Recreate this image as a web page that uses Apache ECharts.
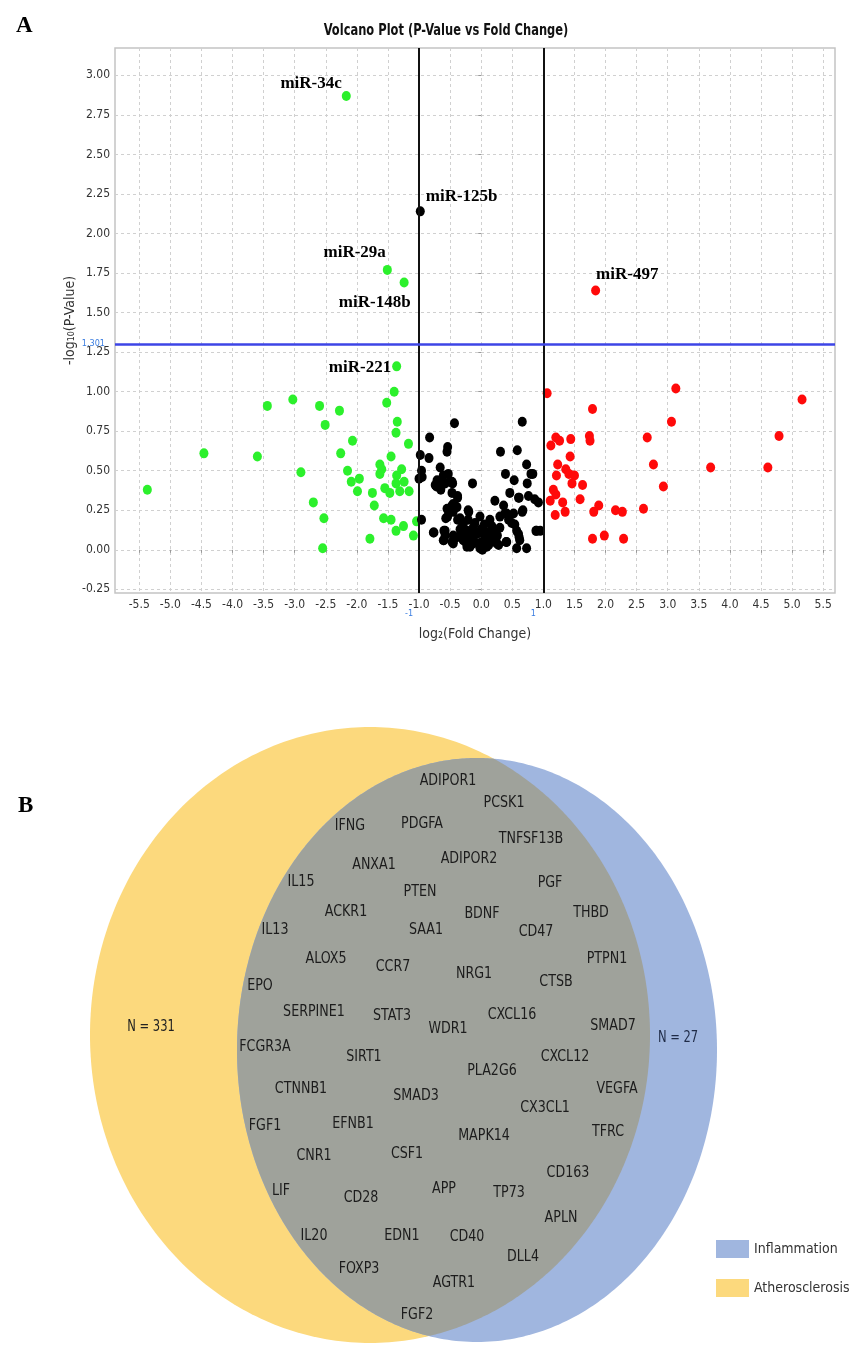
<!DOCTYPE html>
<html><head><meta charset="utf-8">
<script src="https://cdn.jsdelivr.net/npm/echarts@6.0.0/dist/echarts.min.js"></script>
<style>html,body{margin:0;padding:0;background:#fff}#c{width:854px;height:1345px}</style>
</head><body><div id="c"></div>
<script>
// ---------------- Volcano data ----------------
const downX = [-5.37,-4.46,-3.60,-3.44,-3.03,-2.90,-2.70,-2.60,-2.51,-2.53,-2.55,-2.28,-2.26,-2.07,-2.15,-2.09,-1.96,-1.99,-1.75,-1.72,-1.79,-1.63,-1.60,-1.63,-1.55,-1.57,-1.52,-1.40,-1.35,-1.37,-1.45,-1.36,-1.37,-1.47,-1.45,-1.37,-1.28,-1.31,-1.24,-1.25,-1.17,-1.16,-1.09,-1.04];
const downY = [0.38,0.61,0.59,0.91,0.95,0.49,0.30,0.91,0.79,0.20,0.01,0.88,0.61,0.69,0.50,0.43,0.45,0.37,0.36,0.28,0.07,0.54,0.51,0.48,0.39,0.20,0.93,1.00,0.81,0.74,0.59,0.47,0.42,0.36,0.19,0.12,0.51,0.37,0.43,0.15,0.67,0.37,0.09,0.18];
const upX = [1.06,3.13,5.16,1.79,3.06,4.79,2.67,1.74,1.75,1.44,1.20,1.26,1.12,1.43,2.77,1.23,3.69,4.61,1.36,1.21,1.41,1.50,1.46,1.63,2.93,1.16,1.20,1.11,1.31,1.59,1.35,1.19,1.89,1.81,2.16,2.27,2.61,1.79,1.98,2.29];
const upY = [0.99,1.02,0.95,0.89,0.81,0.72,0.71,0.72,0.69,0.70,0.71,0.69,0.66,0.59,0.54,0.54,0.52,0.52,0.51,0.47,0.48,0.47,0.42,0.41,0.40,0.38,0.35,0.31,0.30,0.32,0.24,0.22,0.28,0.24,0.25,0.24,0.26,0.07,0.09,0.07];
const nsX = [-0.83,-0.98,-0.84,-0.96,-1.00,-0.95,-0.96,-0.76,-0.66,-0.58,-0.66,-0.54,-0.55,-0.53,-0.50,-0.43,-0.47,-0.54,-0.58,-0.45,-0.41,-0.38,-0.61,-0.74,-0.65,-0.46,-0.38,-0.14,0.31,0.58,0.66,0.73,0.39,0.53,0.80,0.74,0.46,0.61,0.76,0.86,0.92,0.22,0.36,-0.45,-0.50,-0.57,-0.38,-0.20,-0.30,-0.02,0.14,0.30,0.38,0.52,0.66,0.44,0.54,0.57,0.61,-0.77,-0.60,-0.60,-0.45,-0.45,-0.34,-0.23,-0.18,-0.13,-0.07,-0.18,-0.05,0.02,0.06,0.11,0.17,0.26,0.28,0.40,0.57,0.73,0.89,0.95,-0.31,-0.29,-0.13,0.09,0.19,-0.21,-0.39,-0.61,-0.71,-0.10,0.00,0.05,-0.25,0.12,
  -0.72,-0.61,-0.47,0.60,-0.47,-0.45,-0.55,-0.21,0.41,0.67,0.17,-0.34,-0.29,0.30,0.49,-0.58,-0.47,-0.15,0.01,0.09,0.17,-0.23,-0.13,0.01,0.25,-0.23,-0.02,0.41,0.60,0.62,-0.39,0.88,0.83];
const nsY = [0.71,0.60,0.58,0.50,0.45,0.46,0.19,0.11,0.52,0.42,0.41,0.65,0.62,0.48,0.43,0.80,0.36,0.21,0.12,0.05,0.27,0.33,0.06,0.41,0.38,0.42,0.34,0.42,0.62,0.63,0.81,0.54,0.48,0.44,0.48,0.42,0.36,0.33,0.34,0.32,0.30,0.31,0.28,0.29,0.25,0.20,0.19,0.24,0.17,0.21,0.19,0.21,0.23,0.23,0.24,0.19,0.16,0.12,0.08,0.11,0.12,0.06,0.09,0.04,0.13,0.12,0.08,0.14,0.10,0.02,0.04,0.00,0.07,0.11,0.06,0.09,0.03,0.05,0.01,0.01,0.12,0.12,0.10,0.06,0.06,0.02,0.12,0.19,0.27,0.43,0.44,0.17,0.13,0.16,0.05,0.03,
  0.40,0.47,0.43,0.33,0.28,0.24,0.26,0.25,0.23,0.25,0.15,0.20,0.16,0.14,0.17,0.09,0.05,0.12,0.11,0.08,0.10,0.06,0.04,0.05,0.04,0.02,0.01,0.05,0.10,0.06,0.08,0.12,0.48];
const namedMiR = ['miR-34c','miR-125b','miR-29a','miR-148b','miR-497','miR-221'];
const namedX = [-2.17,-0.98,-1.51,-1.24,1.84,-1.36];
const namedY = [2.87,2.14,1.77,1.69,1.64,1.16];
const namedGroup = ['down','ns','down','down','up','down'];
const fcThresholds = [-1, 1];
const pThreshold = 1.301;
const xTickValues = [-5.5,-5.0,-4.5,-4.0,-3.5,-3.0,-2.5,-2.0,-1.5,-1.0,-0.5,0.0,0.5,1.0,1.5,2.0,2.5,3.0,3.5,4.0,4.5,5.0,5.5];
const yTickValues = [-0.25,0.00,0.25,0.50,0.75,1.00,1.25,1.50,1.75,2.00,2.25,2.50,2.75,3.00];
const chartTitle = 'Volcano Plot (P-Value vs Fold Change)';

// ---------------- Venn data ----------------
const vennSets = ['Atherosclerosis','Inflammation'];
const vennCounts = [331, 27];
const sharedGenes = ['ADIPOR1','PCSK1','IFNG','PDGFA','TNFSF13B','ADIPOR2','ANXA1','IL15','PGF','PTEN','ACKR1','THBD','BDNF','IL13','SAA1','CD47','ALOX5','PTPN1','CCR7','NRG1','CTSB','EPO','SERPINE1','STAT3','CXCL16','WDR1','SMAD7','FCGR3A','SIRT1','CXCL12','PLA2G6','CTNNB1','SMAD3','VEGFA','CX3CL1','FGF1','EFNB1','MAPK14','TFRC','CNR1','CSF1','CD163','LIF','CD28','APP','TP73','APLN','IL20','EDN1','CD40','DLL4','FOXP3','AGTR1','FGF2'];

// ---------------- layout (not data) ----------------
const geneLayoutX = [448,504,350,422,531,469,374,301,550,420,346,591,482,275,426,536,326,607,393,474,556,260,314,392,512,448,613,265,364,565,492,301,416,617,545,265,353,484,608,314,407,568,281,361,444,509,561,314,402,467,523,359,454,417];
const geneLayoutY = [781,803,826,824,839,859,865,882,883,892,912,913,914,930,930,932,959,959,967,974,982,986,1012,1016,1015,1029,1026,1047,1057,1057,1071,1089,1096,1089,1108,1126,1124,1136,1132,1156,1154,1173,1191,1198,1189,1193,1218,1236,1236,1237,1257,1269,1283,1315];
const ellipseLayout = { Atherosclerosis: [370,1035,280,308], Inflammation: [477,1050,240,292] };
const countLayout = { Atherosclerosis: [151,1027], Inflammation: [678,1038] };
const labelLayout = {
  'miR-34c':  {position:'left',  distance:0, offset:[0,-12]},
  'miR-125b': {position:'right', distance:1, offset:[0,-15]},
  'miR-29a':  {position:'left',  distance:0, offset:[3,-17]},
  'miR-148b': {position:'left',  distance:0, offset:[11,20]},
  'miR-497':  {position:'right', distance:0, offset:[-4,-16]},
  'miR-221':  {position:'left',  distance:1, offset:[0,1]}
};

const SANS = "'DejaVu Sans Condensed','DejaVu Sans',sans-serif";
const SERIF = "'Liberation Serif','Times New Roman',serif";
const COLORS = {down:'#2cf02c', ns:'#000000', up:'#ff0a0a'};
const YELLOW = '#fcd97d', BLUE = '#a0b6df', GREY = '#9fa29b';

function groupData(xs, ys, key) {
  const d = xs.map((x,i)=>[x, ys[i]]);
  namedMiR.forEach((n,i)=>{
    if (namedGroup[i] !== key) return;
    const L = labelLayout[n];
    d.push({value:[namedX[i], namedY[i]], name:n,
      label:{show:true, formatter:n, position:L.position, distance:L.distance, offset:L.offset,
        fontFamily:SERIF, fontWeight:'bold', fontSize:17, color:'#000', opacity:1}});
  });
  return d;
}

function ellipsePoints(p, n) {
  const pts = [];
  for (let k=0;k<n;k++){ const t=2*Math.PI*k/n; pts.push([p[0]+p[2]*Math.cos(t), p[1]+p[3]*Math.sin(t)]); }
  return pts;
}
function inside(pt, p){ const dx=(pt[0]-p[0])/p[2], dy=(pt[1]-p[1])/p[3]; return dx*dx+dy*dy<=1.0000001; }
function intersectionPoints(a, b) {
  const pts = ellipsePoints(a,720).filter(q=>inside(q,b)).concat(ellipsePoints(b,720).filter(q=>inside(q,a)));
  const cx = pts.reduce((s,q)=>s+q[0],0)/pts.length, cy = pts.reduce((s,q)=>s+q[1],0)/pts.length;
  pts.sort((u,v)=>Math.atan2(u[1]-cy,u[0]-cx)-Math.atan2(v[1]-cy,v[0]-cx));
  return pts;
}
function polyRender(ptsFn, color) {
  return function(params, api){
    return {type:'polygon', shape:{points: ptsFn().map(q=>api.coord(q))}, style:{fill:color}, silent:true};
  };
}
function textRender(textFn, colorFn, size, sx) {
  return function(params, api){
    const p = api.coord([api.value(0), api.value(1)]);
    return {type:'text', x:p[0], y:p[1], scaleX:sx, scaleY:1, silent:true,
      style:{text:textFn(params.dataIndex), fill:colorFn(params.dataIndex), font:size+'px '+SANS, align:'center', verticalAlign:'middle'}};
  };
}

const chart = echarts.init(document.getElementById('c'), null, {renderer:'canvas'});
const scatterBase = {type:'scatter', xAxisIndex:0, yAxisIndex:0, symbol:'circle', symbolSize:[9,10], emphasis:{disabled:true}};

const option = {
  animation:false,
  backgroundColor:'#fff',
  title:[
    {text:'A', left:11, top:10, textStyle:{fontFamily:SERIF, fontWeight:'bold', fontSize:23, color:'#000'}},
    {text:'B', left:13, top:790, textStyle:{fontFamily:SERIF, fontWeight:'bold', fontSize:23, color:'#000'}}
  ],
  graphic:[
    {type:'text', x:446, y:31, scaleX:0.85, scaleY:1, silent:true,
     style:{text:chartTitle, font:'bold 15px '+SANS, fill:'#111', align:'center', verticalAlign:'middle'}}
  ],
  legend:{data:['Inflammation','Atherosclerosis'], orient:'vertical', left:716, top:1240, icon:'rect',
    itemWidth:33, itemHeight:18, itemGap:21, padding:0, selectedMode:false,
    textStyle:{fontFamily:SANS, fontSize:14, color:'#333', padding:[0,0,0,0]}},
  grid:[
    {left:115, top:48, width:720, height:545, show:true, borderColor:'#c4c4c4', borderWidth:1.5, backgroundColor:'#fff'},
    {left:0, top:700, width:854, height:645, show:false}
  ],
  xAxis:[
    {type:'value', gridIndex:0, min:-5.89, max:5.69,
     name:'log\u2082(Fold Change)', nameLocation:'middle', nameGap:34,
     nameTextStyle:{fontFamily:SANS, fontSize:14, color:'#333'},
     axisLine:{show:false},
     axisTick:{show:true, length:3, customValues:xTickValues, lineStyle:{color:'#999'}},
     axisLabel:{customValues:xTickValues, formatter:v=>v.toFixed(1), margin:6, fontFamily:SANS, fontSize:12, color:'#333'},
     splitLine:{show:true, lineStyle:{color:'#d0d0d0', type:[3,3], width:1}}},
    {type:'value', gridIndex:1, min:0, max:854, show:false}
  ],
  yAxis:[
    {type:'value', gridIndex:0, min:-0.273, max:3.173,
     name:'-log\u2081\u2080(P-Value)', nameLocation:'middle', nameGap:38, nameRotate:90, nameMoveOverlap:false,
     nameTextStyle:{fontFamily:SANS, fontSize:14, color:'#333'},
     axisLine:{show:false},
     axisTick:{show:true, length:3, customValues:yTickValues, lineStyle:{color:'#999'}},
     axisLabel:{customValues:yTickValues, formatter:v=>v.toFixed(2), margin:5, fontFamily:SANS, fontSize:12, color:'#333'},
     splitLine:{show:true, lineStyle:{color:'#d0d0d0', type:[3,3], width:1}}},
    {type:'value', gridIndex:1, min:700, max:1345, inverse:true, show:false}
  ],
  series:[
    Object.assign({}, scatterBase, {name:'down', data:groupData(downX, downY, 'down'), itemStyle:{color:COLORS.down, opacity:1}}),
    Object.assign({}, scatterBase, {name:'up', data:groupData(upX, upY, 'up'), itemStyle:{color:COLORS.up, opacity:1}}),
    Object.assign({}, scatterBase, {name:'ns', data:groupData(nsX, nsY, 'ns'), itemStyle:{color:COLORS.ns, opacity:1},
      markLine:{silent:true, symbol:'none', animation:false,
        data:[
          ...fcThresholds.map(v=>({xAxis:v, lineStyle:{color:'#111', width:2, type:'solid'},
             label:{show:true, formatter:String(v), position:'start', distance:16, offset:[-10,0], color:'#3a7de0', fontSize:9, fontFamily:SANS}})),
          {yAxis:pThreshold, lineStyle:{color:'#3d45e6', width:2.5, type:'solid'},
             label:{show:true, formatter:String(pThreshold), position:'start', distance:10, offset:[0,-1], color:'#3a7de0', fontSize:9, fontFamily:SANS}}
        ]}}),
    {type:'custom', name:'Atherosclerosis', coordinateSystem:'cartesian2d', xAxisIndex:1, yAxisIndex:1, clip:false,
     itemStyle:{color:YELLOW}, data:[[0,0]], z:1,
     renderItem:polyRender(()=>ellipsePoints(ellipseLayout.Atherosclerosis,360), YELLOW)},
    {type:'custom', name:'Inflammation', coordinateSystem:'cartesian2d', xAxisIndex:1, yAxisIndex:1, clip:false,
     itemStyle:{color:BLUE}, data:[[0,0]], z:2,
     renderItem:polyRender(()=>ellipsePoints(ellipseLayout.Inflammation,360), BLUE)},
    {type:'custom', name:'shared', coordinateSystem:'cartesian2d', xAxisIndex:1, yAxisIndex:1, clip:false,
     data:[[0,0]], z:3,
     renderItem:polyRender(()=>intersectionPoints(ellipseLayout.Atherosclerosis, ellipseLayout.Inflammation), GREY)},
    {type:'custom', name:'genes', coordinateSystem:'cartesian2d', xAxisIndex:1, yAxisIndex:1, clip:false, z:4,
     data:sharedGenes.map((g,i)=>[geneLayoutX[i], geneLayoutY[i]]),
     renderItem:textRender(i=>sharedGenes[i], ()=>'#1c1c1c', 16, 0.88)},
    {type:'custom', name:'counts', coordinateSystem:'cartesian2d', xAxisIndex:1, yAxisIndex:1, clip:false, z:4,
     data:vennSets.map(s=>countLayout[s]),
     renderItem:textRender(i=>'N = '+vennCounts[i], i=>i===0?'#222':'#1f2b47', 16, 0.8)}
  ]
};
chart.setOption(option);
</script>
</body></html>
